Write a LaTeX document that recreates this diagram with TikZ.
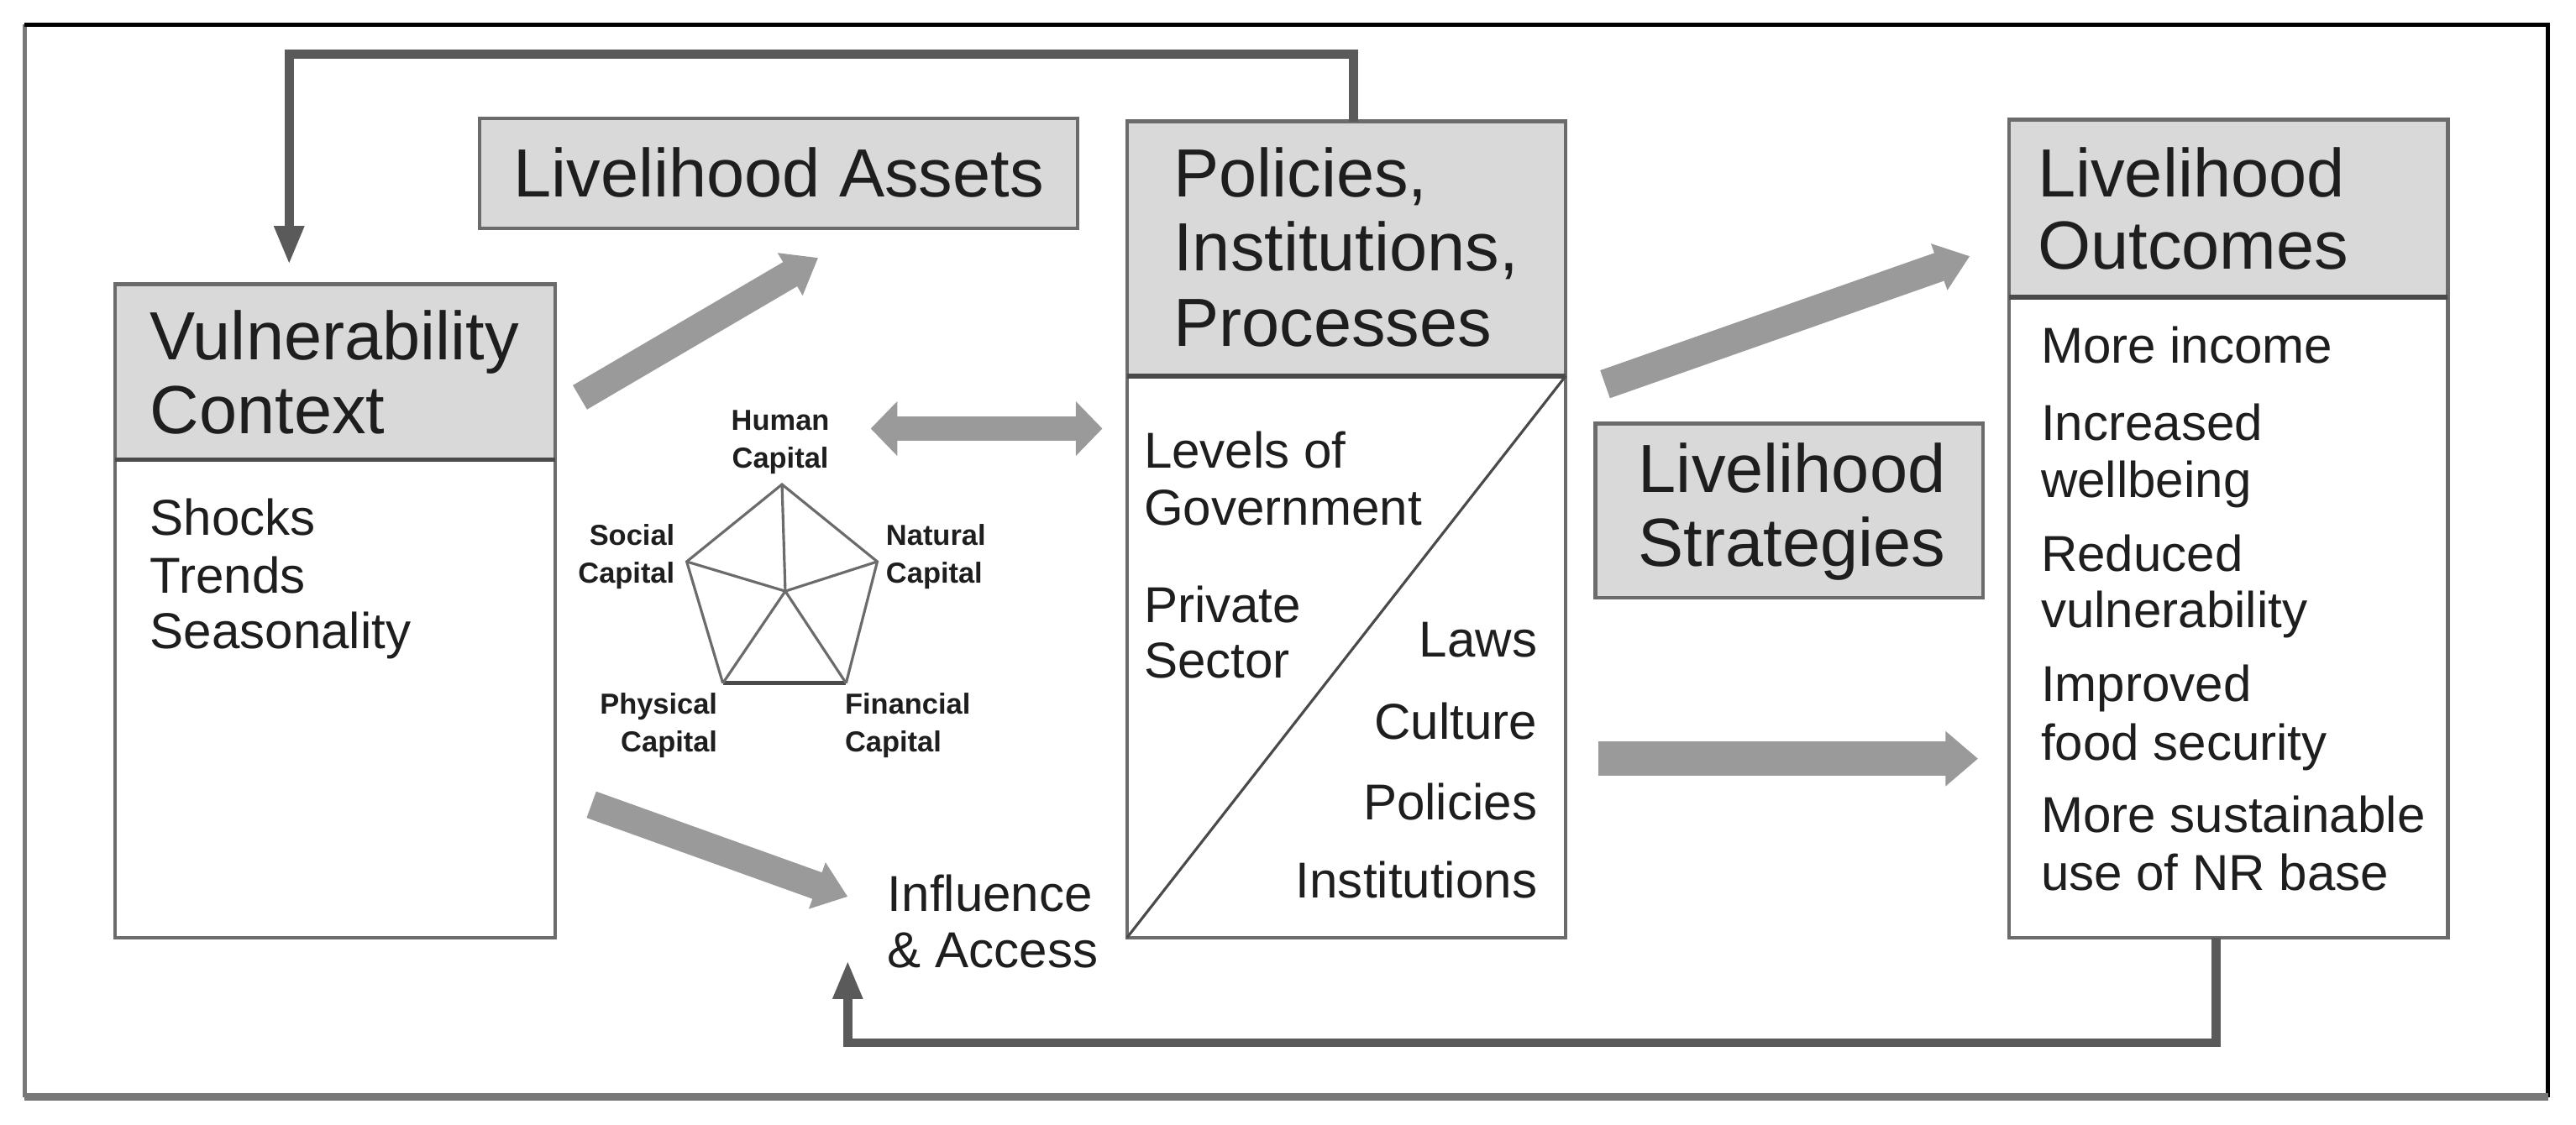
\documentclass[tikz,border=0pt]{standalone}
\usepackage{fontspec}
\setmainfont{Liberation Sans}
\usetikzlibrary{arrows.meta}
\definecolor{txtc}{HTML}{1E1E1E}
\definecolor{boxc}{HTML}{6B6B6B}
\definecolor{sepc}{HTML}{4A4A4A}
\definecolor{hdrc}{HTML}{D9D9D9}
\definecolor{fatc}{HTML}{9A9A9A}
\definecolor{fbcol}{HTML}{5A5A5A}
\definecolor{frgray}{HTML}{777777}
\newcommand\pxu{0.01956cm}
\newcommand\hdfont{\fontsize{23.1}{26}\selectfont}
\newcommand\bdfont{\fontsize{17.1}{19}\selectfont}
\newcommand\cpfont{\fontsize{9.8}{11}\selectfont\bfseries}
\begin{document}
\begin{tikzpicture}[x=0.01956cm,y=-0.01956cm,
  bx/.style={draw=boxc, line width=1.3pt, inner sep=0pt, outer sep=0pt, anchor=north west},
  hb/.style={bx, fill=hdrc},
  wb/.style={bx, fill=white},
  sepline/.style={draw=sepc, line width=1.6pt},
  hd/.style={font=\hdfont, inner sep=0pt, anchor=base west, text=txtc},
  bd/.style={font=\bdfont, inner sep=0pt, anchor=base west, text=txtc},
  bdr/.style={bd, anchor=base east},
  cpl/.style={font=\cpfont, inner sep=0pt, text=txtc},
  fat/.style={draw=fatc, line width=11.5pt, -{Triangle[length=11pt,width=18pt]}},
  fats/.style={draw=fatc, line width=9.5pt, -{Triangle[length=11pt,width=16pt]}},
  fatd/.style={draw=fatc, line width=8.3pt, {Triangle[length=9pt,width=18pt]}-{Triangle[length=9pt,width=18pt]}},
  fb/.style={draw=fbcol, line width=3pt, -{Triangle[length=13pt,width=9.5pt]}},
  pent/.style={draw=boxc, line width=0.9pt},
  diag/.style={draw=sepc, line width=0.9pt}
]
\useasboundingbox (0,0) rectangle (1568,685);

% outer frame
\node[inner sep=0pt, outer sep=0pt, anchor=north west, minimum width=1536*\pxu, minimum height=653*\pxu] (frm) at (15,15) {};
\draw[draw=frgray, line width=1.3pt] (frm.south west) -- (frm.north west);
\draw[draw=black, line width=1.5pt] (frm.north west) -- (frm.north east) -- (frm.south east);
\draw[draw=frgray, line width=2.6pt] (frm.south west) -- (frm.south east);

% boxes
\node[hb, minimum width=268*\pxu, minimum height=107*\pxu] (vulh) at (70,173) {};
\node[wb, minimum width=268*\pxu, minimum height=291*\pxu] (vulb) at (70,280) {};
\node[hb, minimum width=364*\pxu, minimum height=67*\pxu] (lah) at (292,72) {};
\node[hb, minimum width=267*\pxu, minimum height=155*\pxu] (polh) at (686,74) {};
\node[wb, minimum width=267*\pxu, minimum height=342*\pxu] (polb) at (686,229) {};
\node[hb, minimum width=236*\pxu, minimum height=106*\pxu] (strh) at (971,258) {};
\node[hb, minimum width=267*\pxu, minimum height=108*\pxu] (outh) at (1223,73) {};
\node[wb, minimum width=267*\pxu, minimum height=390*\pxu] (outb) at (1223,181) {};

\draw[sepline] (vulh.south west) -- (vulh.south east);
\draw[sepline] (polh.south west) -- (polh.south east);
\draw[sepline] (outh.south west) -- (outh.south east);
\draw[diag] (polb.north east) -- (polb.south west);

% header texts
\node[hd] (v1) at (91,219) {Vulnerability};
\node[hd] (v2) at (91,264) {Context};
\node[hd, anchor=base] (la1) at (474,120) {Livelihood Assets};
\node[hd] (p1) at (714,120) {Policies,};
\node[hd] (p2) at (714,165) {Institutions,};
\node[hd] (p3) at (714,211) {Processes};
\node[hd] (s1) at (997,300) {Livelihood};
\node[hd] (s2) at (997,345) {Strategies};
\node[hd] (o1) at (1240,120) {Livelihood};
\node[hd] (o2) at (1240,164) {Outcomes};

% body texts
\node[bd] (vb1) at (91,326) {Shocks};
\node[bd] (vb2) at (91,361) {Trends};
\node[bd] (vb3) at (91,395) {Seasonality};

\node[bd] (pl1) at (696,285) {Levels of};
\node[bd] (pl2) at (696,320) {Government};
\node[bd] (pl3) at (696,379) {Private};
\node[bd] (pl4) at (696,413) {Sector};
\node[bdr] (pr1) at (936,400) {Laws};
\node[bdr] (pr2) at (936,450) {Culture};
\node[bdr] (pr3) at (936,499) {Policies};
\node[bdr] (pr4) at (936,547) {Institutions};

\node[bd] (ob1) at (1242,221) {More income};
\node[bd] (ob2) at (1242,268) {Increased};
\node[bd] (ob3) at (1242,303) {wellbeing};
\node[bd] (ob4) at (1242,348) {Reduced};
\node[bd] (ob5) at (1242,382) {vulnerability};
\node[bd] (ob6) at (1242,427) {Improved};
\node[bd] (ob7) at (1242,463) {food security};
\node[bd] (ob8) at (1242,507) {More sustainable};
\node[bd] (ob9) at (1242,542) {use of NR base};

\node[bd] (ia1) at (540,555) {Influence};
\node[bd] (ia2) at (540,589) {\& Access};

% pentagon
\coordinate (ph) at (476,295);
\coordinate (ps) at (418,342);
\coordinate (pn) at (534,342);
\coordinate (pp) at (440,416);
\coordinate (pf) at (515,416);
\coordinate (pc) at (478,360);
\draw[pent] (pf) -- (pn) -- (ph) -- (ps) -- (pp);
\draw[pent, draw=sepc, line width=1.4pt] (pp) -- (pf);
\draw[pent] (pc) -- (ph);
\draw[pent] (pc) -- (ps);
\draw[pent] (pc) -- (pn);
\draw[pent] (pc) -- (pp);
\draw[pent] (pc) -- (pf);

\node[cpl, anchor=base] (hc1) at (475,262) {Human};
\node[cpl, anchor=base] (hc2) at (475,285) {Capital};
\node[cpl, anchor=base east] (sc1) at (411,332) {Social};
\node[cpl, anchor=base east] (sc2) at (411,355) {Capital};
\node[cpl, anchor=base west] (nc1) at (539,332) {Natural};
\node[cpl, anchor=base west] (nc2) at (539,355) {Capital};
\node[cpl, anchor=base east] (yc1) at (437,435) {Physical};
\node[cpl, anchor=base east] (yc2) at (437,458) {Capital};
\node[cpl, anchor=base west] (fc1) at (514,435) {Financial};
\node[cpl, anchor=base west] (fc2) at (514,458) {Capital};

% fat arrows
\coordinate (a1s) at (353,242);
\coordinate (a1e) at (498,157);
\coordinate (a2s) at (530,261);
\coordinate (a2e) at (671,261);
\coordinate (a3s) at (360,490);
\coordinate (a3e) at (516,546);
\coordinate (a4s) at (977,234);
\coordinate (a4e) at (1199,156);
\coordinate (a5s) at (973,462);
\coordinate (a5e) at (1204,462);
\draw[fats] (a1s) -- (a1e);
\draw[fatd] (a2s) -- (a2e);
\draw[fats] (a3s) -- (a3e);
\draw[fats, line width=10pt] (a4s) -- (a4e);
\draw[fat] (a5s) -- (a5e);

% feedback connectors
\coordinate (fbx) at (824,0);
\coordinate (fbc) at (176,33);
\coordinate (fbe) at (176,161);
\draw[fb] (polh.north -| fbx) |- (fbc) -- (fbe);
\coordinate (bbx) at (1349,0);
\coordinate (bbc) at (516,635);
\coordinate (bbe) at (516,585);
\draw[fb] (outb.south -| bbx) |- (bbc) -- (bbe);
\end{tikzpicture}
\end{document}
